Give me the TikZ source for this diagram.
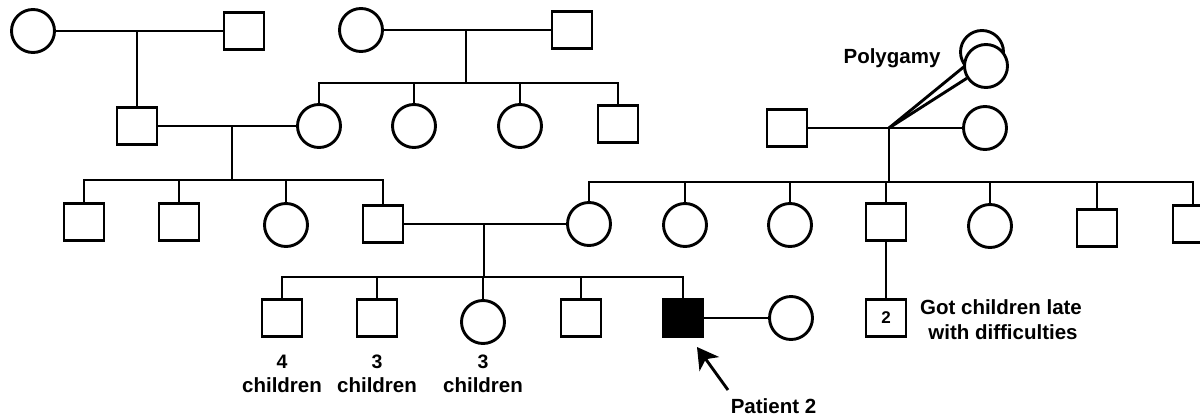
\documentclass[tikz,border=0pt]{standalone}
\usepackage{fontspec}
\setmainfont{Liberation Sans}
\usetikzlibrary{arrows.meta}
\tikzset{
  ln/.style={line width=2.9pt, line join=miter},
  sq/.style={draw, rectangle, line width=2.9pt, fill=white, minimum width=40pt, minimum height=37.5pt, inner sep=0pt},
  ci/.style={draw, circle, line width=2.9pt, fill=white, minimum size=43pt, inner sep=0pt},
  aff/.style={sq, fill=black},
  lbl/.style={font=\fontsize{20.5}{24}\selectfont\bfseries, inner sep=0pt, anchor=base},
  num/.style={font=\fontsize{19.5}{20}\selectfont\bfseries, inner sep=0pt, anchor=base}
}
\begin{document}
\begin{tikzpicture}[x=1pt,y=-1pt]
\useasboundingbox[fill=white] (0,0) rectangle (1200,418);
% generation I
\node[ci] (c1) at (33,31) {};
\node[sq] (s1) at (244,31) {};
\node[ci] (c2) at (361,30) {};
\node[sq] (s2) at (572,30) {};
\coordinate (m1) at (137,31);
\coordinate (m2) at (466,30);
\coordinate (sb2) at (0,83);
% generation II
\node[sq] (s3) at (137,126) {};
\node[ci] (c3) at (319,126) {};
\node[ci] (c4) at (414,126) {};
\node[ci] (c5) at (520,126) {};
\node[sq] (s4) at (618,124) {};
\coordinate (m3) at (232,126);
\coordinate (sb3) at (0,180);
% right family
\node[sq] (s8) at (787,128) {};
\node[ci] (c8) at (985,128) {};
\coordinate (j) at (889,128);
\coordinate (sb5) at (0,182);
\node[ci] (c9b) at (982,52) {};
\draw[ln] (j) -- (c9b);
\node[ci] (c9f) at (986,66) {};
\draw[ln] (j) -- (c9f);
\node[lbl] (poly) at (892,63.5) {Polygamy};
% generation III
\node[sq] (s5) at (84,222) {};
\node[sq] (s6) at (179,222) {};
\node[ci] (c6) at (286,225) {};
\node[sq] (s7) at (383,224) {};
\node[ci] (c10) at (589,224) {};
\node[ci] (c11) at (685,225) {};
\node[ci] (c12) at (790,225) {};
\node[sq] (s9) at (886,222) {};
\node[ci] (c13) at (990,226) {};
\node[sq] (s10) at (1097,228) {};
\node[sq] (s11) at (1193,224) {};
\coordinate (m4) at (484,224);
\coordinate (sb4) at (0,277);
% generation IV
\node[sq] (s12) at (282,318) {};
\node[sq] (s13) at (377,318) {};
\node[ci] (c14) at (483,322) {};
\node[sq] (s15) at (581,318) {};
\node[aff] (s16) at (683,318) {};
\node[ci] (c17) at (791,318) {};
\node[sq] (s18) at (886,318) {\fontsize{17}{17}\selectfont\bfseries 2};

% marriages and descent
\draw[ln] (c1) -- (s1);
\draw[ln] (m1) -- (s3.north);
\draw[ln] (c2) -- (s2);
\draw[ln] (m2) -- (m2 |- sb2);
\draw[ln] (c3.north) -- (c3.north |- sb2) -- (s4.north |- sb2) -- (s4.north);
\draw[ln] (c4.north) -- (c4.north |- sb2);
\draw[ln] (c5.north) -- (c5.north |- sb2);

\draw[ln] (s3) -- (c3);
\draw[ln] (m3) -- (m3 |- sb3);
\draw[ln] (s5.north) -- (s5.north |- sb3) -- (s7.north |- sb3) -- (s7.north);
\draw[ln] (s6.north) -- (s6.north |- sb3);
\draw[ln] (c6.north) -- (c6.north |- sb3);

\draw[ln] (s8) -- (c8);
\draw[ln] (j) -- (j |- sb5);
\draw[ln] (c10.north) -- (c10.north |- sb5) -- (s11.north |- sb5) -- (s11.north);
\draw[ln] (c11.north) -- (c11.north |- sb5);
\draw[ln] (c12.north) -- (c12.north |- sb5);
\draw[ln] (s9.north) -- (s9.north |- sb5);
\draw[ln] (c13.north) -- (c13.north |- sb5);
\draw[ln] (s10.north) -- (s10.north |- sb5);
\draw[ln] (s9.south) -- (s18.north);

\draw[ln] (s7) -- (c10);
\draw[ln] (m4) -- (m4 |- sb4);
\draw[ln] (s12.north) -- (s12.north |- sb4) -- (s16.north |- sb4) -- (s16.north);
\draw[ln] (s13.north) -- (s13.north |- sb4);
\draw[ln] (c14.north) -- (c14.north |- sb4);
\draw[ln] (s15.north) -- (s15.north |- sb4);
\draw[ln] (s16) -- (c17);

% labels
\node[num] (n1) at (282,368.5) {4};
\node[lbl] (t1) at (282,392.5) {children};
\node[num] (n2) at (377,368.5) {3};
\node[lbl] (t2) at (377,392.5) {children};
\node[num] (n3) at (483,368.5) {3};
\node[lbl] (t3) at (483,392.5) {children};
\node[lbl] (g1) at (1001,314) {Got children late};
\node[lbl] (g2) at (1003,339) {with difficulties};
\node[lbl] (pat) at (773.5,413) {Patient 2};
\coordinate (ptail) at (728,390);
\coordinate (ptip) at (697,347);
\draw[line width=2.9pt, -{Stealth[length=21pt,width=24pt,inset=6pt]}] (ptail) -- (ptip);
\end{tikzpicture}
\end{document}
